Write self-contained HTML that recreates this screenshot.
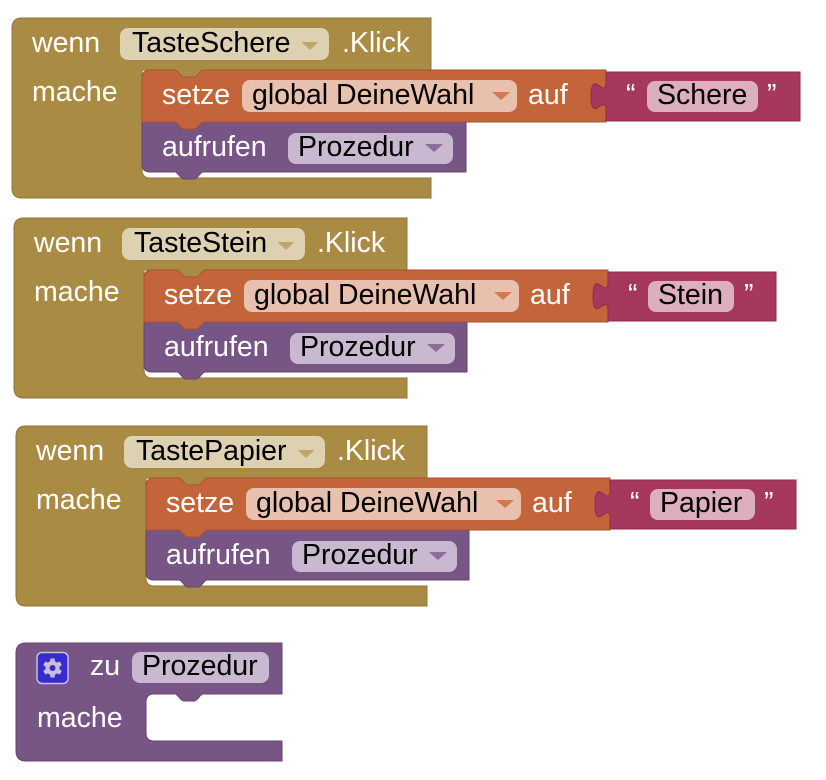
<!DOCTYPE html>
<html>
<head>
<meta charset="utf-8">
<style>
  html, body { margin:0; padding:0; background:#ffffff; }
  body { width:826px; height:780px; overflow:hidden; }
  svg { display:block; }
  text { font-family: "Liberation Sans", Arial, sans-serif; font-size:28.5px; }
  .w { fill:#ffffff; }
  .k { fill:#000000; }
</style>
</head>
<body>
<svg width="826" height="780" viewBox="0 0 826 780" xmlns="http://www.w3.org/2000/svg">

  <!-- ============ BLOCK 1 ============ -->
  <g>
    <path d="M12,28 Q12,18 22,18 H431 V70 H203 c-3,0 -5,7 -9,7 h-10 c-4,0 -6,-7 -9,-7 H142 V170 Q142,178 150,178 H431 V198 H22 Q12,198 12,188 Z" fill="#a98b43" stroke="#8f7434" stroke-width="1"/>
    <path d="M142,122 H466 V172 H203 c-3,0 -5,7 -9,7 h-10 c-4,0 -6,-7 -9,-7 H150 Q142,172 142,164 Z" fill="#775585" stroke="#634572" stroke-width="1"/>
    <path d="M142,78 Q142,70 150,70 H175 c3,0 5,7 9,7 h10 c4,0 6,-7 9,-7 H606 V122 H203 c-3,0 -5,7 -9,7 h-10 c-4,0 -6,-7 -9,-7 H142 Z" fill="#c3643a" stroke="#a85430" stroke-width="1"/>
    <path d="M606,72 V82 c0,19 -15,-15 -15,14.25 s15,-4.75 15,14.25 V121 H800 V72 Z" fill="#a7385d" stroke="#8e2c4e" stroke-width="1"/>

    <text x="32" y="52" class="w">wenn</text>
    <rect x="120" y="28" width="209" height="32" rx="8" fill="#ddd1b2"/>
    <text x="132" y="52" class="k">TasteSchere</text>
    <polygon points="301.5,42 318.5,42 310,50" fill="#c0a56a"/>
    <text x="342" y="52" class="w">.Klick</text>

    <text x="32" y="101" class="w">mache</text>

    <text x="162" y="104" class="w">setze</text>
    <rect x="242" y="80" width="275" height="32" rx="8" fill="#e8c0ae"/>
    <text x="252" y="104" class="k">global DeineWahl</text>
    <polygon points="492,92 510,92 501,100" fill="#d07a4f"/>
    <text x="528" y="104" class="w">auf</text>

    <text x="626" y="104" class="w">“</text>
    <rect x="647" y="81" width="111" height="31" rx="8" fill="#dcaebf"/>
    <text x="657" y="104" class="k">Schere</text>
    <text x="767" y="104" class="w">”</text>

    <text x="162" y="156" class="w">aufrufen</text>
    <rect x="288" y="133" width="165" height="31" rx="8" fill="#c8b8d0"/>
    <text x="298" y="156" class="k">Prozedur</text>
    <polygon points="425,144 443,144 434,152" fill="#8c6d9a"/>
  </g>

  <!-- ============ BLOCK 2 ============ -->
  <g transform="translate(2,200)">
    <path d="M12,28 Q12,18 22,18 H405 V70 H203 c-3,0 -5,7 -9,7 h-10 c-4,0 -6,-7 -9,-7 H142 V170 Q142,178 150,178 H405 V198 H22 Q12,198 12,188 Z" fill="#a98b43" stroke="#8f7434" stroke-width="1"/>
    <path d="M142,122 H465 V172 H203 c-3,0 -5,7 -9,7 h-10 c-4,0 -6,-7 -9,-7 H150 Q142,172 142,164 Z" fill="#775585" stroke="#634572" stroke-width="1"/>
    <path d="M142,78 Q142,70 150,70 H175 c3,0 5,7 9,7 h10 c4,0 6,-7 9,-7 H606 V122 H203 c-3,0 -5,7 -9,7 h-10 c-4,0 -6,-7 -9,-7 H142 Z" fill="#c3643a" stroke="#a85430" stroke-width="1"/>
    <path d="M606,72 V82 c0,19 -15,-15 -15,14.25 s15,-4.75 15,14.25 V121 H774 V72 Z" fill="#a7385d" stroke="#8e2c4e" stroke-width="1"/>

    <text x="32" y="52" class="w">wenn</text>
    <rect x="120" y="28" width="183" height="32" rx="8" fill="#ddd1b2"/>
    <text x="132" y="52" class="k">TasteStein</text>
    <polygon points="275.5,42 292.5,42 284,50" fill="#c0a56a"/>
    <text x="315" y="52" class="w">.Klick</text>

    <text x="32" y="101" class="w">mache</text>

    <text x="162" y="104" class="w">setze</text>
    <rect x="242" y="80" width="275" height="32" rx="8" fill="#e8c0ae"/>
    <text x="252" y="104" class="k">global DeineWahl</text>
    <polygon points="492,92 510,92 501,100" fill="#d07a4f"/>
    <text x="528" y="104" class="w">auf</text>

    <text x="626" y="104" class="w">“</text>
    <rect x="646" y="81" width="86" height="31" rx="8" fill="#dcaebf"/>
    <text x="656" y="104" class="k">Stein</text>
    <text x="742" y="104" class="w">”</text>

    <text x="162" y="156" class="w">aufrufen</text>
    <rect x="288" y="133" width="165" height="31" rx="8" fill="#c8b8d0"/>
    <text x="298" y="156" class="k">Prozedur</text>
    <polygon points="425,144 443,144 434,152" fill="#8c6d9a"/>
  </g>

  <!-- ============ BLOCK 3 ============ -->
  <g transform="translate(4,408)">
    <path d="M12,28 Q12,18 22,18 H423 V70 H203 c-3,0 -5,7 -9,7 h-10 c-4,0 -6,-7 -9,-7 H142 V170 Q142,178 150,178 H423 V198 H22 Q12,198 12,188 Z" fill="#a98b43" stroke="#8f7434" stroke-width="1"/>
    <path d="M142,122 H465 V172 H203 c-3,0 -5,7 -9,7 h-10 c-4,0 -6,-7 -9,-7 H150 Q142,172 142,164 Z" fill="#775585" stroke="#634572" stroke-width="1"/>
    <path d="M142,78 Q142,70 150,70 H175 c3,0 5,7 9,7 h10 c4,0 6,-7 9,-7 H606 V122 H203 c-3,0 -5,7 -9,7 h-10 c-4,0 -6,-7 -9,-7 H142 Z" fill="#c3643a" stroke="#a85430" stroke-width="1"/>
    <path d="M606,72 V82 c0,19 -15,-15 -15,14.25 s15,-4.75 15,14.25 V121 H792 V72 Z" fill="#a7385d" stroke="#8e2c4e" stroke-width="1"/>

    <text x="32" y="52" class="w">wenn</text>
    <rect x="120" y="28" width="201" height="32" rx="8" fill="#ddd1b2"/>
    <text x="132" y="52" class="k">TastePapier</text>
    <polygon points="293.5,42 310.5,42 302,50" fill="#c0a56a"/>
    <text x="333" y="52" class="w">.Klick</text>

    <text x="32" y="101" class="w">mache</text>

    <text x="162" y="104" class="w">setze</text>
    <rect x="242" y="80" width="275" height="32" rx="8" fill="#e8c0ae"/>
    <text x="252" y="104" class="k">global DeineWahl</text>
    <polygon points="492,92 510,92 501,100" fill="#d07a4f"/>
    <text x="528" y="104" class="w">auf</text>

    <text x="626" y="104" class="w">“</text>
    <rect x="646" y="81" width="105" height="31" rx="8" fill="#dcaebf"/>
    <text x="656" y="104" class="k">Papier</text>
    <text x="760" y="104" class="w">”</text>

    <text x="162" y="156" class="w">aufrufen</text>
    <rect x="288" y="133" width="165" height="31" rx="8" fill="#c8b8d0"/>
    <text x="298" y="156" class="k">Prozedur</text>
    <polygon points="425,144 443,144 434,152" fill="#8c6d9a"/>
  </g>

  <!-- ============ PROCEDURE BLOCK ============ -->
  <g>
    <path d="M16,653 Q16,643 26,643 H282 V694 H203 c-3,0 -5,7 -9,7 h-10 c-4,0 -6,-7 -9,-7 H154 Q146,694 146,702 V733 Q146,741 154,741 H282 V761 H26 Q16,761 16,751 Z" fill="#775585" stroke="#634572" stroke-width="1"/>

    <rect x="37" y="652.5" width="31" height="31" rx="5" fill="#3a2bcf" stroke="#c9bfdc" stroke-width="1.5"/>
    <g fill="#cbbfe0">
      <circle cx="52.5" cy="668" r="7"/>
      <rect x="50.2" y="658.5" width="4.6" height="19" rx="1"/>
      <rect x="50.2" y="658.5" width="4.6" height="19" rx="1" transform="rotate(60 52.5 668)"/>
      <rect x="50.2" y="658.5" width="4.6" height="19" rx="1" transform="rotate(120 52.5 668)"/>
    </g>
    <circle cx="52.5" cy="668" r="3" fill="#3a2bcf"/>

    <text x="90" y="675" class="w">zu</text>
    <rect x="132" y="652" width="137" height="31" rx="8" fill="#c8b8d0"/>
    <text x="142" y="675" class="k">Prozedur</text>

    <text x="37" y="727" class="w">mache</text>
  </g>

</svg>
</body>
</html>
